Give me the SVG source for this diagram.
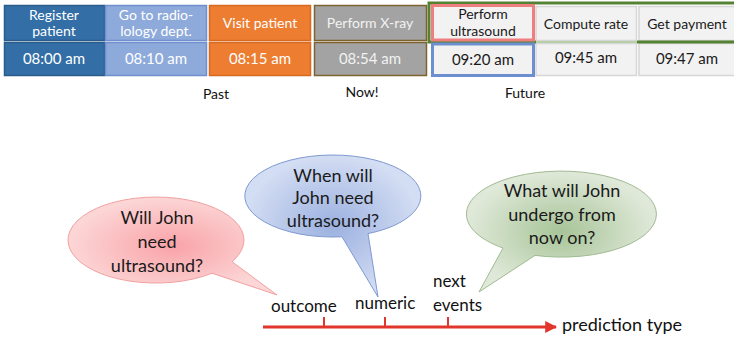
<svg xmlns="http://www.w3.org/2000/svg" width="734" height="340" viewBox="0 0 734 340">
<defs>
<radialGradient id="gRed" cx="0.5" cy="0.5" r="0.5">
<stop offset="0" stop-color="#f9a3a8"/><stop offset="1" stop-color="#fcd6d6"/>
</radialGradient>
<radialGradient id="gBlue" cx="0.5" cy="0.5" r="0.5">
<stop offset="0" stop-color="#9cb1e0"/><stop offset="1" stop-color="#d3ddf3"/>
</radialGradient>
<radialGradient id="gGreen" cx="0.5" cy="0.5" r="0.5">
<stop offset="0" stop-color="#a7c498"/><stop offset="1" stop-color="#e0e9d9"/>
</radialGradient>
<marker id="arr" viewBox="0 0 10 10" refX="9" refY="5" markerWidth="4" markerHeight="4" orient="auto" markerUnits="strokeWidth">
<path d="M0,0 L10,5 L0,10 Z" fill="#e2352b"/>
</marker>
</defs>
<style>
text{font-family:Lato,"Open Sans","Liberation Sans",sans-serif;text-anchor:middle}
.c{font-size:14px}
.t{font-size:15px}
.w{fill:#ffffff}
.g4{fill:#f2f2f2}
.k{fill:#1a1a1a}
.f{fill:#f2f2f2;stroke:#d6d6d6;stroke-width:1.5}
.b{font-size:18px;fill:#1a1a1a}
.lab{font-size:17px;fill:#111;text-anchor:start}
.hdr{font-size:14px;fill:#111}
</style>

<g id="cell-register">
<rect x="4.5" y="5.5" width="100" height="35" fill="#336fa6" stroke="#2a5b8b" stroke-width="1.5"/>
<rect x="4.5" y="42.5" width="100" height="33" fill="#336fa6" stroke="#2a5b8b" stroke-width="1.5"/>
<text class="c w" x="54" y="20">Register</text>
<text class="c w" x="54" y="36">patient</text>
<text class="t w" x="54" y="64">08:00 am</text>
</g>
<g id="cell-radiology">
<rect x="105.5" y="5.5" width="101" height="35" fill="#8eaadb" stroke="#6f8fcf" stroke-width="1.5"/>
<rect x="105.5" y="42.5" width="101" height="33" fill="#8eaadb" stroke="#6f8fcf" stroke-width="1.5"/>
<text class="c w" x="156" y="20">Go to radio-</text>
<text class="c w" x="156" y="36">lology dept.</text>
<text class="t w" x="156" y="64">08:10 am</text>
</g>
<g id="cell-visit">
<rect x="209.5" y="5.5" width="101" height="35" fill="#ed7d31" stroke="#d86a20" stroke-width="1.5"/>
<rect x="209.5" y="42.5" width="101" height="33" fill="#ed7d31" stroke="#d86a20" stroke-width="1.5"/>
<text class="c w" x="260" y="28">Visit patient</text>
<text class="t w" x="260" y="64">08:15 am</text>
</g>
<g id="cell-xray">
<rect x="314.5" y="5.5" width="112" height="35" fill="#a3a3a3" stroke="#7d6330" stroke-width="1.5"/>
<rect x="314.5" y="42.5" width="112" height="33" fill="#a3a3a3" stroke="#7d6330" stroke-width="1.5"/>
<text class="c g4" x="370" y="28">Perform X-ray</text>
<text class="t g4" x="370" y="64">08:54 am</text>
</g>
<g id="cell-ultrasound">
<rect class="f" x="432" y="5.5" width="102" height="35"/>
<rect class="f" x="432" y="43" width="102" height="33"/>
<text class="c k" x="483" y="19">Perform</text>
<text class="c k" x="483" y="36">ultrasound</text>
<text class="t k" x="483" y="65">09:20 am</text>
</g>
<g id="cell-rate">
<rect class="f" x="536" y="6.5" width="100.5" height="34"/>
<rect class="f" x="536" y="43.5" width="100.5" height="32"/>
<text class="c k" x="586" y="29">Compute rate</text>
<text class="t k" x="586" y="63">09:45 am</text>
</g>
<g id="cell-payment">
<rect class="f" x="639" y="6.5" width="100" height="34"/>
<rect class="f" x="639" y="43.5" width="100" height="32"/>
<text class="c k" x="687" y="29">Get payment</text>
<text class="t k" x="687" y="64">09:47 am</text>
</g>

<g id="highlights" fill="none">
<path d="M735,3 L429,3 L429,42 L536,42" stroke="#548235" stroke-width="3"/>
<path d="M536,42 L637,42" stroke="#b9cfa8" stroke-width="2"/>
<path d="M637,42 L735,42" stroke="#548235" stroke-width="3"/>
<rect x="432.5" y="5.5" width="101" height="34.5" stroke="#ef7f7f" stroke-width="3"/>
<rect x="432.5" y="44" width="101" height="31.5" stroke="#6e8fcf" stroke-width="3"/>
</g>

<g id="headers">
<text class="hdr" x="216" y="99">Past</text>
<text class="hdr" x="362" y="97">Now!</text>
<text class="hdr" x="525" y="98">Future</text>
</g>

<g id="bubble-outcome">
<path d="M212,273.2 A88 43 0 1 1 232,261.7 L277,295 Z" fill="url(#gRed)" stroke="#f2a1a1" stroke-width="1"/>
<text class="b" x="157" y="224">Will John</text>
<text class="b" x="157" y="248">need</text>
<text class="b" x="157" y="272">ultrasound?</text>
</g>
<g id="bubble-numeric">
<path d="M368,233.6 L378,297 L342,236.8 A88 41 0 1 1 368,233.6 Z" fill="url(#gBlue)" stroke="#7f99d2" stroke-width="1"/>
<text class="b" x="333" y="182">When will</text>
<text class="b" x="333" y="204">John need</text>
<text class="b" x="333" y="227">ultrasound?</text>
</g>
<g id="bubble-next">
<path d="M503,248 L479,292 L535,255.4 A95 43 0 1 0 503,248 Z" fill="url(#gGreen)" stroke="#a1bb92" stroke-width="1"/>
<text class="b" x="562" y="197">What will John</text>
<text class="b" x="562" y="221">undergo from</text>
<text class="b" x="562" y="244">now on?</text>
</g>

<g id="connectors">
<line x1="263" y1="327" x2="556" y2="327" stroke="#e2352b" stroke-width="3" marker-end="url(#arr)"/>
<line x1="324" y1="317" x2="324" y2="327" stroke="#e2352b" stroke-width="2"/>
<line x1="385" y1="317" x2="385" y2="327" stroke="#e2352b" stroke-width="2"/>
<line x1="448" y1="317" x2="448" y2="327" stroke="#e2352b" stroke-width="2"/>
</g>

<g id="axis-labels">
<text class="lab" x="271" y="312">outcome</text>
<text class="lab" x="355" y="309">numeric</text>
<text class="lab" x="433" y="287">next</text>
<text class="lab" x="433" y="311">events</text>
<text class="lab" x="562" y="331" style="font-size:18px">prediction type</text>
</g>
</svg>
